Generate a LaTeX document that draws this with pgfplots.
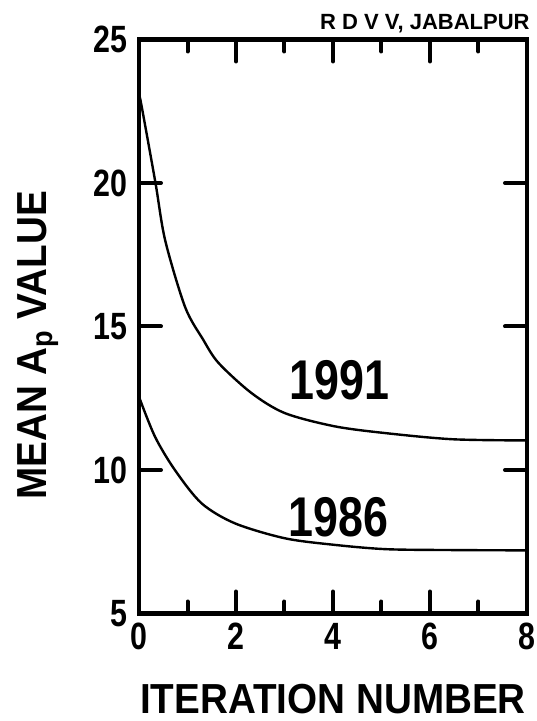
\documentclass[border=0pt]{standalone}
\usepackage{fontspec}
\setmainfont{Liberation Sans}
\newfontfamily\tickf{Liberation Sans}[FakeStretch=0.8]
\newfontfamily\lblf{Liberation Sans}[FakeStretch=0.92]
\usepackage{pgfplots}
\pgfplotsset{compat=1.18}

\begin{document}
\begin{tikzpicture}
\begin{axis}[
  name=main,
  scale only axis,
  width=194pt, height=287pt,
  xmin=0, xmax=8, ymin=5, ymax=25,
  xtick={0,2,...,8}, minor xtick={1,3,5,7},
  ytick={5,10,...,25},
  tick align=inside,
  major tick length=11pt, minor tick length=6pt,
  axis line style={line width=2.2pt},
  every tick/.style={black, line width=2pt, line cap=round},
  /pgf/number format/assume math mode=true,
  ticklabel style={font=\tickf\bfseries\fontsize{19}{19}\selectfont, inner sep=0pt},
  yticklabel style={anchor=east, xshift=-5.5pt},
  xticklabel style={anchor=north, yshift=-4.75pt},
  xlabel={ITERATION NUMBER},
  ylabel={MEAN A\textsubscript{p} VALUE},
  label style={font=\lblf\bfseries\fontsize{21}{21}\selectfont, inner sep=0pt},
  xlabel style={at={(axis description cs:0.5,-0.122)}, anchor=north},
  ylabel style={at={(axis description cs:-0.314,0.467)}, anchor=north},
  clip=false,
]
% 1991
\addplot[black, line width=1.2pt, smooth] coordinates {
  (0,23.1) (0.056,22.66) (0.34,20.0) (0.54,18.0) (0.95,15.68) (1.32,14.55)
  (1.64,13.73) (2.32,12.68) (3.01,11.98) (4.04,11.52) (5.11,11.28)
  (6.48,11.07) (8,11.03)
};
% 1986
\addplot[black, line width=1.2pt, smooth] coordinates {
  (0,12.55) (0.33,11.16) (0.74,10.0) (1.29,8.84) (1.98,8.14) (3.01,7.62)
  (4.04,7.39) (5.11,7.24) (6.5,7.21) (8,7.2)
};
\node[font=\tickf\bfseries\fontsize{28}{28}\selectfont, inner sep=0pt] at (axis cs:4.14,13.14) {1991};
\node[font=\tickf\bfseries\fontsize{28}{28}\selectfont, inner sep=0pt] at (axis cs:4.12,8.36) {1986};
\node[font=\bfseries\fontsize{11}{11}\selectfont, inner sep=0pt, anchor=base east]
  at ([xshift=1.5pt,yshift=5pt]rel axis cs:1,1) {R D V V, JABALPUR};
\end{axis}
\path (main.south west) ++(-69.5pt,-53.75pt) rectangle ++(268pt,360.5pt);
\end{tikzpicture}
\end{document}
